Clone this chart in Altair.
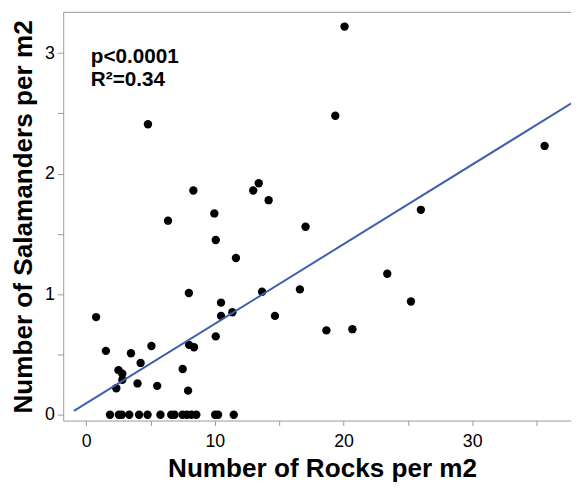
import altair as alt
import pandas as pd

# Rocks per m2 (x) and salamanders per m2 (y)
rocks = [0.77, 1.53, 2.34, 2.51, 2.81, 2.81, 3.48, 3.99, 4.23, 4.80, 5.07, 5.52,
         6.36, 7.50, 7.92, 7.98, 8.00, 8.38, 8.33, 9.96, 10.07, 10.07, 10.48, 10.48,
         11.36, 11.64, 12.98, 13.41, 13.67, 14.18, 14.67, 16.61, 17.05, 18.67, 19.36,
         20.08, 20.69, 23.40, 25.24, 26.01, 35.63,
         1.85, 2.54, 2.77, 3.35, 4.11, 4.77, 5.77, 6.61, 6.87, 7.49, 7.83, 8.18, 8.56,
         10.02, 10.25, 11.47]
salamanders = [0.81, 0.53, 0.22, 0.37, 0.34, 0.29, 0.51, 0.26, 0.43, 2.41, 0.57, 0.24,
               1.61, 0.38, 0.20, 1.01, 0.58, 0.56, 1.86, 1.67, 1.45, 0.65, 0.93, 0.82,
               0.85, 1.30, 1.86, 1.92, 1.02, 1.78, 0.82, 1.04, 1.56, 0.70, 2.48,
               3.22, 0.71, 1.17, 0.94, 1.70, 2.23,
               0, 0, 0, 0, 0, 0, 0, 0, 0, 0, 0, 0, 0,
               0, 0, 0]

# Linear fit shown in the figure
fit_slope = 0.066
fit_intercept = 0.095
fit_x = [-0.95, 40.0]
annotations = ["p<0.0001", "R²=0.34"]

x_ticks = [0, 5, 10, 15, 20, 25, 30, 35]
y_ticks = [0, 0.5, 1, 1.5, 2, 2.5, 3]

W, H = 515, 414
x_domain = [-1.785, 37.68]
y_domain = [-0.048, 3.338]

df = pd.DataFrame({"rocks": rocks, "sal": salamanders})
line_df = pd.DataFrame({"rocks": fit_x,
                        "sal": [fit_intercept + fit_slope * v for v in fit_x]})

xscale = alt.Scale(domain=x_domain, nice=False, zero=False)
yscale = alt.Scale(domain=y_domain, nice=False, zero=False)

x_enc = alt.X("rocks:Q", scale=xscale,
              axis=alt.Axis(values=x_ticks, title="Number of Rocks per m2",
                            labelExpr="datum.value % 10 === 0 ? format(datum.value, 'd') : ''",
                            tickSize=5, labelPadding=7, titlePadding=6,
                            titleX=W / 2 + 5))
y_enc = alt.Y("sal:Q", scale=yscale,
              axis=alt.Axis(values=y_ticks, title="Number of Salamanders per m2",
                            labelExpr="datum.value % 1 === 0 ? format(datum.value, 'd') : ''",
                            tickSize=6, labelPadding=3, titlePadding=7))

points = alt.Chart(df).mark_circle(size=72, color="black", opacity=1).encode(
    x=x_enc, y=y_enc)

line = alt.Chart(line_df).mark_line(color="#3d5fae", strokeWidth=2, clip=True).encode(
    x=alt.X("rocks:Q", scale=xscale), y=alt.Y("sal:Q", scale=yscale))

top_rule = alt.Chart(pd.DataFrame({"a": [0]})).mark_rule(color="#999999", strokeWidth=1).encode(
    x=alt.value(0), x2=alt.value(W), y=alt.value(0))

text1 = alt.Chart(pd.DataFrame({"t": [annotations[0]]})).mark_text(
    align="left", baseline="alphabetic", font="Liberation Sans", fontWeight="bold",
    fontSize=21, color="black").encode(x=alt.value(28), y=alt.value(51.5), text="t:N")
text2 = alt.Chart(pd.DataFrame({"t": [annotations[1]]})).mark_text(
    align="left", baseline="alphabetic", font="Liberation Sans", fontWeight="bold",
    fontSize=21, color="black").encode(x=alt.value(28), y=alt.value(74.5), text="t:N")

chart = alt.layer(points, line, top_rule, text1, text2).properties(
    width=W, height=H,
    autosize=alt.AutoSizeParams(type="none"),
    padding={"left": 56, "top": 1, "right": 1, "bottom": 66},
).configure_view(stroke=None).configure_axis(
    grid=False, domainColor="#999999", tickColor="#999999",
    labelFont="Liberation Sans", labelFontSize=18, labelColor="black",
    titleFont="Liberation Sans", titleFontWeight="bold", titleFontSize=26.5,
    titleColor="black",
)

chart.save("out.html", embed_options={"renderer": "svg", "actions": False})
